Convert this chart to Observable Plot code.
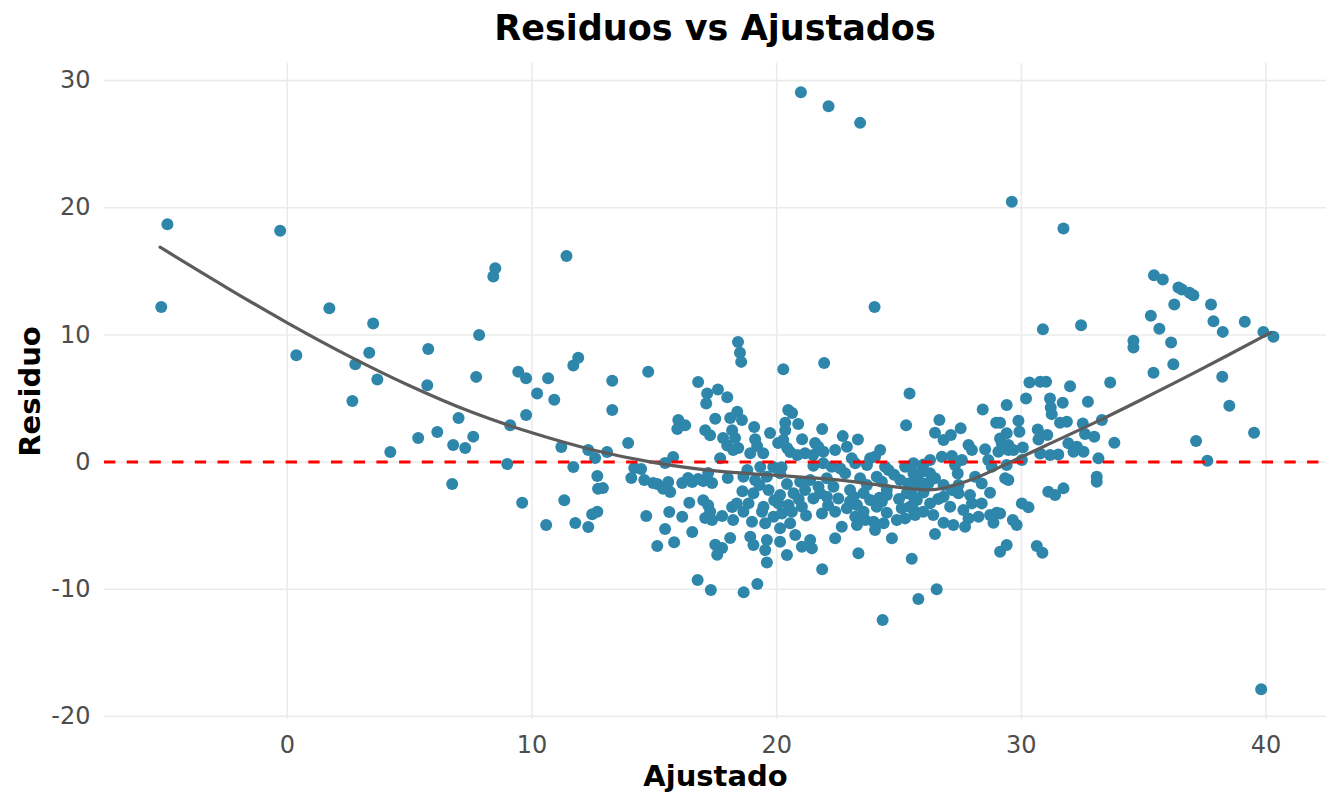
<!DOCTYPE html>
<html>
<head>
<meta charset="utf-8">
<script src="https://cdn.jsdelivr.net/npm/d3@7"></script>
<script src="https://cdn.jsdelivr.net/npm/@observablehq/plot@0.6"></script>
<style>
  html, body { margin: 0; padding: 0; background: #ffffff; }
  #title { box-sizing: border-box; width: 1344px; height: 56px; line-height: 56px; padding-left: 86px;
    text-align: center; font-family: "DejaVu Sans", sans-serif; font-weight: bold; font-size: 35px; color: #000; }
  #chart svg { display: block; }
</style>
</head>
<body>
<div id="title">Residuos vs Ajustados</div>
<div id="chart"></div>
<script>
// Fitted values (Ajustado)
const fitted = [
  -5.15,-4.9,-0.29,0.37,1.72,3.51,3.35,2.78,3.68,2.66,4.21,5.35,5.76,5.72,6.13,6.78,6.74,7.0,7.27,7.6,
  7.72,7.84,8.42,8.5,8.99,9.11,9.44,9.6,9.76,9.76,10.21,10.58,10.66,10.91,11.2,11.32,11.41,11.69,11.89,11.69,
  11.77,12.3,12.58,12.3,12.46,12.67,12.67,12.7,12.9,13.07,13.28,13.28,13.93,14.18,14.46,14.06,14.59,14.67,14.75,
  18.42,18.5,18.55,16.79,17.16,17.6,17.98,17.12,15.98,16.26,15.94,17.49,17.08,17.28,18.1,18.39,18.58,17.81,18.18,
  17.98,18.3,18.22,17.69,15.77,15.44,14.95,15.12,15.36,15.57,15.65,16.14,16.38,16.55,16.79,17.0,17.2,17.36,18.0,
  16.43,17.0,17.2,17.28,17.08,17.36,17.77,18.18,18.22,15.61,16.14,15.44,16.55,15.81,15.12,17.49,17.77,17.57,18.1,
  16.77,17.31,18.65,
  20.27,21.94,20.47,20.63,20.35,20.35,20.88,19.08,19.73,21.86,21.04,19.12,19.2,20.06,20.27,20.43,21.57,21.7,18.43,
  19.45,18.92,20.55,20.84,21.16,21.49,21.9,18.8,19.33,19.86,18.64,19.12,19.6,20.14,20.42,20.96,21.37,21.71,22.05,
  19.05,19.67,20.14,20.69,21.16,21.78,18.37,18.85,19.46,20.07,20.48,21.03,21.5,21.85,18.64,19.4,19.87,20.21,20.62,
  18.99,19.53,20.14,20.55,18.92,19.6,20.14,20.76,21.03,21.37,21.44,20.42,19.05,19.53,19.6,21.86,19.21,
  25.43,25.29,22.7,23.32,22.87,22.39,21.91,24.23,24.02,23.82,23.07,23.21,22.25,23.69,24.43,24.57,25.25,25.59,22.8,
  23.41,24.09,24.3,24.5,25.05,25.39,25.73,22.32,23.0,23.69,22.05,22.52,23.14,23.55,23.82,24.3,24.5,25.32,25.59,
  25.11,25.45,22.39,22.87,23.28,23.55,24.09,24.5,24.91,25.25,25.66,23.21,23.28,23.62,23.96,24.02,24.37,22.66,22.39,
  24.71,23.34,25.52,25.79,24.33,26.54,24.0,20.99,22.12,23.41,
  28.42,29.4,28.97,26.65,26.47,26.82,27.12,27.52,27.84,27.98,28.52,29.13,29.4,29.27,29.47,29.06,26.27,26.75,27.16,
  27.57,27.29,28.65,28.79,29.34,29.47,25.59,25.93,26.27,26.47,26.2,25.99,25.59,26.82,27.16,27.43,27.43,28.11,28.38,
  28.72,25.73,26.27,26.82,27.09,26.4,25.59,25.99,27.63,27.98,28.38,27.84,28.25,28.72,28.99,28.86,27.7,26.82,27.22,
  26.47,29.13,29.4,
  30.88,32.44,30.33,30.77,31.01,31.99,33.63,30.19,31.17,31.2,31.24,31.69,32.72,29.88,31.58,31.86,32.51,33.29,29.2,
  29.47,29.92,30.67,30.7,31.06,32.6,32.98,33.8,31.92,32.27,32.54,30.06,29.68,30.77,31.17,31.51,32.13,33.15,29.4,
  30.02,33.08,33.08,31.1,31.38,31.72,30.02,30.29,29.65,29.81,30.63,30.86,29.61,31.72,
  35.42,35.78,36.42,36.56,36.87,37.03,36.25,37.75,35.29,37.85,39.13,35.64,38.23,39.89,40.3,34.58,34.58,36.12,36.21,
  35.4,38.21,38.5,37.14,39.51,37.6,39.8,
  29.13,29.13,26.0,26.6,27.9,24.8,24.2,23.0,22.1,21.2,20.9,19.9,19.3,18.6,27.4,26.0,25.0,22.6,21.5,20.2
];
// Residuals (Residuo)
const residual = [
  12.2,18.7,18.2,8.4,12.1,10.9,8.6,7.7,6.5,4.8,0.79,1.89,8.9,6.05,2.36,1.34,-1.73,3.46,1.1,2.0,
  6.7,10.0,14.6,15.25,-0.16,2.9,7.1,-3.2,6.6,3.7,5.4,-4.95,6.6,4.9,1.18,-3.0,16.2,7.6,8.2,-0.39,
  -4.8,0.94,0.31,-5.1,-4.1,-3.9,-1.1,-2.1,-2.05,0.79,6.4,4.1,1.5,-0.47,-0.55,-1.26,-1.41,-4.25,7.1,
  9.45,8.6,7.88,6.3,5.4,5.7,5.1,4.6,3.3,2.9,2.6,3.4,2.5,2.1,3.46,3.95,3.3,1.9,2.5,
  1.3,1.9,0.94,0.3,0.39,-0.08,-1.65,-1.73,-2.1,-1.57,-2.36,-1.65,-1.26,-1.57,-1.34,-1.5,-0.86,-1.65,-1.26,
  -3.2,-3.0,-3.4,-3.9,-4.4,-4.56,-4.25,-3.54,-4.56,-3.93,-4.3,-5.27,-5.5,-6.3,-6.6,-6.5,-6.76,-7.3,-5.97,
  -9.28,-10.06,-10.25,
  7.3,7.8,4.1,3.85,3.1,2.5,3.0,2.75,2.28,2.6,1.8,1.8,1.26,1.5,1.73,1.1,1.5,1.2,1.1,
  0.7,0.7,0.79,0.55,0.7,0.55,-0.1,-0.63,-0.39,-0.39,-1.15,-1.42,-1.15,-0.89,-1.73,-1.55,-1.42,-1.94,-1.28,
  -2.46,-2.2,-2.59,-2.46,-2.2,-2.46,-3.25,-3.25,-3.51,-3.25,-3.38,-3.51,-2.86,-4.04,-3.9,-3.9,-4.3,-4.04,-3.9,
  -4.69,-4.82,-5.21,-4.82,-5.87,-6.13,-6.27,-5.74,-6.66,-6.13,-6.79,-7.31,-6.53,-6.92,-7.9,-8.44,-9.59,
  5.4,2.9,2.04,1.78,1.2,0.94,0.81,0.94,0.42,0.29,0.29,-0.1,-0.37,-0.24,-0.37,-0.63,-0.37,-0.1,-0.89,
  -1.28,-1.15,-1.55,-2.2,-1.42,-1.68,-1.28,-1.94,-2.2,-1.81,-2.73,-2.86,-2.73,-2.46,-2.99,-3.12,-2.59,-2.46,-2.73,
  -3.64,-3.51,-3.9,-3.64,-3.38,-3.9,-3.51,-3.98,-4.56,-4.43,-4.17,-4.3,-4.95,-4.56,-4.69,-5.35,-4.82,-5.08,-6.0,
  -6.0,-7.18,-7.6,-10.77,-12.42,-10.0,12.2,29.09,27.99,26.68,
  4.14,4.48,3.09,3.3,2.3,1.73,2.12,2.65,1.34,0.94,1.0,1.86,2.26,1.2,0.94,0.81,0.16,0.42,0.47,
  0.16,-0.24,0.16,-0.37,-1.28,-1.42,-0.89,-0.76,-0.89,-1.28,-1.68,-1.68,-1.94,-1.81,-2.2,-2.46,-1.81,-1.15,-1.68,
  -2.41,-2.99,-3.25,-2.73,-3.51,-4.17,-3.77,-3.9,-3.77,-3.25,-3.25,-4.43,-4.3,-4.17,-3.98,-4.77,-5.08,-4.77,-4.95,
  -5.66,-7.05,-6.53,
  10.45,10.77,6.26,6.31,6.31,5.97,6.26,5.0,5.0,4.3,3.77,4.66,4.74,3.25,3.09,3.17,3.04,3.3,1.47,
  1.34,2.38,2.57,1.78,2.12,2.2,1.99,1.52,1.47,1.2,0.81,1.15,0.94,0.68,0.55,0.6,0.81,0.29,-0.24,
  0.16,-1.15,-1.55,-2.33,-2.59,-2.07,-3.25,-3.56,-4.56,-4.95,-6.6,-7.13,20.47,18.37,
  14.7,14.36,13.73,13.58,13.31,13.13,12.4,12.4,11.5,11.08,11.03,10.48,10.24,10.24,9.85,9.54,9.02,9.41,7.7,
  7.02,6.71,4.43,1.65,2.3,0.1,-17.87,
  -4.04,3.09,-2.4,-2.9,-2.6,-1.0,-2.8,-3.1,-3.4,-4.2,-2.9,-3.0,-1.8,-2.3,-0.9,-0.2,-2.9,-0.5,-0.3,-0.4
];
// Smoothed trend (loess)
const smoothX = [-5.2,-2.5,0,2.5,5,7.5,10,12.5,15,17.5,20,22.5,24,25.5,26.5,28,29.5,31,33,35,37,40.2];
const smoothY = [16.9,13.75,10.95,8.35,6.0,3.95,2.3,0.95,-0.05,-0.7,-1.05,-1.4,-1.75,-2.1,-2.15,-1.35,-0.05,1.3,3.1,5.0,6.95,10.2];
const xTicks = [0,10,20,30,40];
const yTicks = [-20,-10,0,10,20,30];

const points = fitted.map((x, i) => ({x, y: residual[i]}));
const smooth = smoothX.map((x, i) => ({x, y: smoothY[i]}));

const chart = Plot.plot({
  width: 1344,
  height: 750,
  marginTop: 7,
  marginBottom: 87,
  marginLeft: 104,
  marginRight: 18,
  x: {domain: [-7.47, 42.47]},
  y: {domain: [-20.25, 31.35]},
  style: {fontFamily: "DejaVu Sans", background: "#ffffff", overflow: "visible"},
  marks: [
    Plot.gridX(xTicks, {stroke: "#EBEBEB", strokeOpacity: 1, strokeWidth: 1.6}),
    Plot.gridY(yTicks, {stroke: "#EBEBEB", strokeOpacity: 1, strokeWidth: 1.6}),
    Plot.dot(points, {x: "x", y: "y", r: 6, fill: "#2E86AB", stroke: "none"}),
    Plot.ruleY([0], {stroke: "#FF0000", strokeWidth: 3, strokeDasharray: "11.35,11.35"}),
    Plot.line(smooth, {x: "x", y: "y", curve: "catmull-rom", stroke: "#5c5c5c", strokeWidth: 3.2}),
    Plot.axisX(xTicks, {tickSize: 0, tickPadding: 16, fontSize: 24, fill: "#4D4D4D", label: null, tickFormat: d => String(d)}),
    Plot.axisY(yTicks, {tickSize: 0, tickPadding: 14, fontSize: 24, fill: "#4D4D4D", label: null, tickFormat: d => String(d)}),
    Plot.text(["Ajustado"], {text: d => d, frameAnchor: "bottom", lineAnchor: "middle", textAnchor: "middle", dy: 57, fontSize: 29, fontWeight: "bold", fill: "#000"}),
    Plot.text(["Residuo"], {text: d => d, frameAnchor: "left", lineAnchor: "middle", textAnchor: "middle", dx: -74, rotate: -90, fontSize: 29, fontWeight: "bold", fill: "#000"})
  ]
});
document.getElementById("chart").appendChild(chart);
</script>
</body>
</html>
